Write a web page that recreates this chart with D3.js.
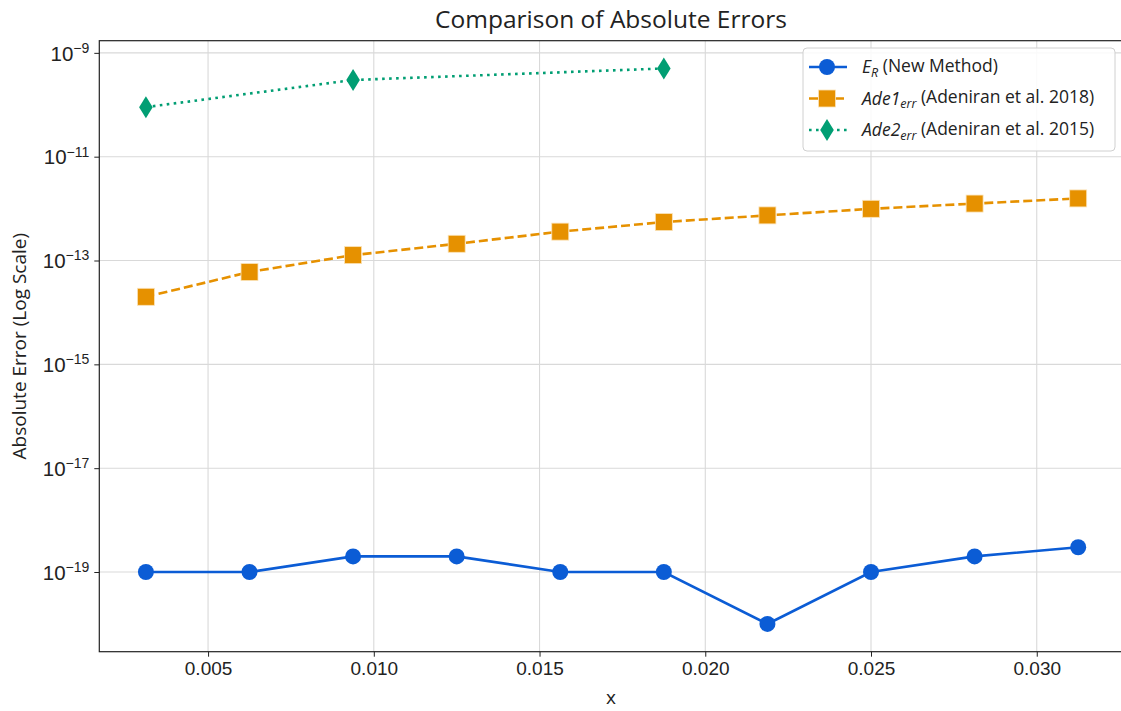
<!DOCTYPE html>
<html>
<head>
<meta charset="utf-8">
<script src="https://cdn.jsdelivr.net/npm/d3@7"></script>
<style>
  body { margin: 0; background: #fff; }
  svg { display: block; font-family: "Open Sans", Roboto, sans-serif; }
</style>
</head>
<body>
<div id="chart"></div>
<script>
// data
const xValues = [0.003125, 0.00625, 0.009375, 0.0125, 0.015625, 0.01875, 0.021875, 0.025, 0.028125, 0.03125];
const erValues = [1e-19, 1e-19, 2e-19, 2e-19, 1e-19, 1e-19, 1e-20, 1e-19, 2e-19, 3e-19];
const ade1Values = [2.0e-14, 6.0e-14, 1.27e-13, 2.1e-13, 3.6e-13, 5.5e-13, 7.4e-13, 9.9e-13, 1.25e-12, 1.57e-12];
const ade2X = [0.003125, 0.009375, 0.01875];
const ade2Values = [9e-11, 3e-10, 5e-10];
const xTicks = [0.005, 0.010, 0.015, 0.020, 0.025, 0.030];
const yTickExps = [-9, -11, -13, -15, -17, -19];

const W = 1121, H = 711;
const margin = { top: 40.7, right: -3.8, bottom: 59.3, left: 99.3 };
const width = W - margin.left - margin.right;
const height = H - margin.top - margin.bottom;

const svg = d3.select("#chart").append("svg")
  .attr("width", W)
  .attr("height", H);

const g = svg.append("g")
  .attr("transform", `translate(${margin.left},${margin.top})`);

// scales with 5% padding like matplotlib autoscale
const xMin = d3.min(xValues), xMax = d3.max(xValues);
const xPad = (xMax - xMin) * 0.05;
const x = d3.scaleLinear().domain([xMin - xPad, xMax + xPad]).range([0, width]);

const allY = erValues.concat(ade1Values, ade2Values);
const lyMin = Math.log10(d3.min(allY)), lyMax = Math.log10(d3.max(allY));
const lyPad = (lyMax - lyMin) * 0.05;
const y = d3.scaleLog().domain([10 ** (lyMin - lyPad), 10 ** (lyMax + lyPad)]).range([height, 0]);

// grid
g.append("g").selectAll("line").data(xTicks).join("line")
  .attr("x1", d => x(d)).attr("x2", d => x(d))
  .attr("y1", 0).attr("y2", height)
  .attr("stroke", "#d9d9d9").attr("stroke-width", 1.1);
g.append("g").selectAll("line").data(yTickExps).join("line")
  .attr("x1", 0).attr("x2", width)
  .attr("y1", d => y(10 ** d)).attr("y2", d => y(10 ** d))
  .attr("stroke", "#d9d9d9").attr("stroke-width", 1.1);

// axes
const xAxis = g.append("g")
  .attr("transform", `translate(0,${height})`)
  .call(d3.axisBottom(x).tickValues(xTicks).tickFormat(d3.format(".3f")).tickSize(5).tickPadding(6));
xAxis.selectAll("text").attr("font-size", 19).attr("fill", "#222").attr("dy", "0.66em");

const yAxis = g.append("g")
  .call(d3.axisLeft(y).tickValues(yTickExps.map(e => 10 ** e)).tickFormat("").tickSize(5));
yAxis.selectAll(".tick").append("text")
  .attr("x", -10).attr("dy", "0.35em")
  .attr("text-anchor", "end")
  .attr("fill", "#222")
  .attr("font-size", 20.5)
  .each(function(d) {
    const t = d3.select(this);
    t.append("tspan").text("10");
    t.append("tspan").attr("dy", "-0.55em").attr("font-size", 14)
      .text("\u2212" + Math.abs(Math.round(Math.log10(d))));
  });

[xAxis, yAxis].forEach(a => {
  a.select(".domain").remove();
  a.selectAll(".tick line").attr("stroke", "#222").attr("stroke-width", 1);
});

// frame
g.append("rect")
  .attr("width", width).attr("height", height)
  .attr("fill", "none").attr("stroke", "#222").attr("stroke-width", 1.2);

// series
const series = [
  { xs: xValues, ys: erValues, color: "#0b5cd5", dash: null, marker: "circle" },
  { xs: xValues, ys: ade1Values, color: "#e69100", dash: "9,4", marker: "square" },
  { xs: ade2X, ys: ade2Values, color: "#019e73", dash: "2.6,4.4", marker: "diamond" }
];

const line = d3.line().x(d => x(d[0])).y(d => y(d[1]));

function drawMarker(sel, type, color) {
  if (type === "circle") {
    sel.append("circle").attr("r", 8).attr("fill", color);
  } else if (type === "square") {
    sel.append("rect").attr("x", -8.5).attr("y", -8.5).attr("width", 17).attr("height", 17)
      .attr("fill", color).attr("stroke", "#fbe3b8").attr("stroke-width", 0.8);
  } else {
    sel.append("path").attr("d", "M0,-11L6.8,0L0,11L-6.8,0Z").attr("fill", color);
  }
}

series.forEach(s => {
  const pts = s.xs.map((v, i) => [v, s.ys[i]]);
  g.append("path")
    .datum(pts)
    .attr("d", line)
    .attr("fill", "none")
    .attr("stroke", s.color)
    .attr("stroke-width", 2.6)
    .attr("stroke-dasharray", s.dash);
  g.append("g").selectAll("g").data(pts).join("g")
    .attr("transform", d => `translate(${x(d[0])},${y(d[1])})`)
    .each(function() { drawMarker(d3.select(this), s.marker, s.color); });
});

// title and axis labels
svg.append("text")
  .attr("x", 611).attr("y", 28)
  .attr("text-anchor", "middle").attr("font-size", 24.5).attr("fill", "#222")
  .text("Comparison of Absolute Errors");

svg.append("text")
  .attr("x", 611).attr("y", 704)
  .attr("text-anchor", "middle").attr("font-size", 19).attr("fill", "#222")
  .text("x");

svg.append("text")
  .attr("transform", `translate(26,${margin.top + height / 2}) rotate(-90)`)
  .attr("text-anchor", "middle").attr("font-size", 19).attr("fill", "#222")
  .text("Absolute Error (Log Scale)");

// legend
const legend = svg.append("g").attr("transform", "translate(803,48)");
legend.append("rect")
  .attr("width", 312).attr("height", 103).attr("rx", 4)
  .attr("fill", "#fff").attr("fill-opacity", 0.85)
  .attr("stroke", "#d0d0d0").attr("stroke-width", 1);

const legendLabels = [
  { main: "E", sub: "R", rest: " (New Method)" },
  { main: "Ade1", sub: "err", rest: " (Adeniran et al. 2018)" },
  { main: "Ade2", sub: "err", rest: " (Adeniran et al. 2015)" }
];

legendLabels.forEach((lab, i) => {
  const s = series[i];
  const row = legend.append("g").attr("transform", `translate(0,${19 + i * 31.5})`);
  row.append("line")
    .attr("x1", 6).attr("x2", 44)
    .attr("stroke", s.color).attr("stroke-width", 2.6)
    .attr("stroke-dasharray", s.dash);
  drawMarker(row.append("g").attr("transform", "translate(24,0)"), s.marker, s.color);
  const t = row.append("text").attr("x", 59).attr("dy", "0.35em")
    .attr("font-size", 17.5).attr("fill", "#222");
  t.append("tspan").attr("font-style", "italic").text(lab.main);
  t.append("tspan").attr("font-style", "italic").attr("font-size", 12.5).attr("dy", "0.3em").text(lab.sub);
  t.append("tspan").attr("dy", "-0.3em").attr("font-size", 17.5).text(lab.rest);
});
</script>
</body>
</html>
